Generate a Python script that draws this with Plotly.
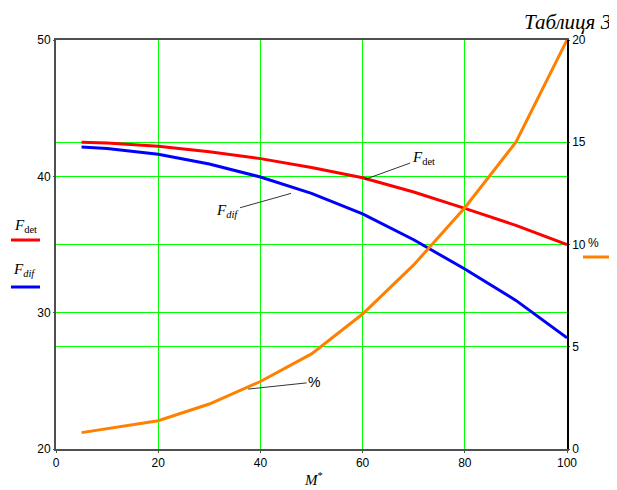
import plotly.graph_objects as go

# Data
m_star = [5, 10, 20, 30, 40, 50, 60, 70, 80, 90, 100]
f_det = [42.5, 42.45, 42.2, 41.8, 41.3, 40.65, 39.9, 38.85, 37.65, 36.4, 35.0]
f_dif = [42.15, 42.05, 41.62, 40.9, 39.95, 38.75, 37.25, 35.35, 33.2, 30.9, 28.15]
percent = [0.8, 1.0, 1.38, 2.2, 3.3, 4.65, 6.6, 9.0, 11.8, 15.0, 20.0]

x_ticks = [0, 20, 40, 60, 80, 100]
y_left_ticks = [20, 30, 40, 50]
y_right_ticks = [0, 5, 10, 15, 20]

GRID = "#00ff00"
AXIS = "#505050"
TICKFONT = dict(family="Liberation Sans, Arial", size=12, color="black")
SERIF = "Liberation Serif, Times New Roman"

# page offset (body margin) compensation
OX, OY = 8, 8
L, T, PW, PH = 56 - OX, 40 - OY, 511, 409


def px(xp):
    return (xp - OX - L) / PW


def py(yp):
    return (T + PH - (yp - OY)) / PH


fig = go.Figure()
fig.add_trace(go.Scatter(x=m_star, y=f_det, mode="lines", line=dict(color="#ff0000", width=3),
                         showlegend=False, yaxis="y"))
fig.add_trace(go.Scatter(x=m_star, y=f_dif, mode="lines", line=dict(color="#0000ff", width=3),
                         showlegend=False, yaxis="y"))
fig.add_trace(go.Scatter(x=m_star, y=percent, mode="lines", line=dict(color="#ff8000", width=3),
                         showlegend=False, yaxis="y2"))

W, H = 617 - OX, 490 - OY
fig.update_layout(
    width=W, height=H,
    margin=dict(l=L, r=W - L - PW, t=T, b=H - T - PH),
    paper_bgcolor="white", plot_bgcolor="white",
    xaxis=dict(range=[0, 100], tickvals=x_ticks, showgrid=True, gridcolor=GRID, gridwidth=1,
               showline=True, linecolor=AXIS, linewidth=1.5, mirror=True,
               ticks="outside", ticklen=2, tickcolor=AXIS, tickfont=TICKFONT, zeroline=False),
    yaxis=dict(range=[20, 50], tickvals=y_left_ticks, showgrid=True, gridcolor=GRID, gridwidth=1,
               showline=True, linecolor=AXIS, linewidth=2, ticks="outside", ticklen=1,
               tickcolor=AXIS, tickfont=TICKFONT, zeroline=False),
    yaxis2=dict(range=[0, 20], tickvals=y_right_ticks, overlaying="y", side="right",
                showgrid=True, gridcolor=GRID, gridwidth=1, showline=True, linecolor="black",
                linewidth=1.5, ticks="outside", ticklen=1, tickcolor=AXIS, tickfont=TICKFONT,
                zeroline=False),
)

annotations = [
    dict(text="<i>Таблиця 3</i>", xref="paper", yref="paper", x=px(613), y=py(22),
         xanchor="right", yanchor="middle", showarrow=False,
         font=dict(family=SERIF, size=21, color="black")),
    dict(text="<i>M</i><sup>*</sup>", xref="paper", yref="paper", x=px(313), y=py(479),
         xanchor="center", yanchor="middle", showarrow=False,
         font=dict(family=SERIF, size=15, color="black")),
    dict(text="<i>F</i><sub>det</sub>", x=60.5, y=39.78, xref="x", yref="y",
         ax=58, ay=-21, showarrow=True, arrowhead=0, arrowwidth=0.8, arrowcolor="black",
         font=dict(family=SERIF, size=15, color="black")),
    dict(text="<i>F</i><sub><i>dif</i></sub>", x=46, y=38.75, xref="x", yref="y",
         ax=-64, ay=18, showarrow=True, arrowhead=0, arrowwidth=0.8, arrowcolor="black",
         font=dict(family=SERIF, size=15, color="black")),
    dict(text="%", x=37.6, y=2.93, xref="x", yref="y2",
         ax=66, ay=-7, showarrow=True, arrowhead=0, arrowwidth=0.8, arrowcolor="black",
         font=dict(family="Liberation Sans, Arial", size=14, color="black")),
    # left legend labels
    dict(text="<i>F</i><sub>det</sub>", xref="paper", yref="paper", x=px(25),
         y=py(226), xanchor="center", yanchor="middle", showarrow=False,
         font=dict(family=SERIF, size=15, color="black")),
    dict(text="<i>F</i><sub><i>dif</i></sub>", xref="paper", yref="paper", x=px(24),
         y=py(270), xanchor="center", yanchor="middle", showarrow=False,
         font=dict(family=SERIF, size=15, color="black")),
    # right axis unit label
    dict(text="%", xref="paper", yref="paper", x=px(586), y=py(243),
         xanchor="left", yanchor="middle", showarrow=False,
         font=dict(family="Liberation Sans, Arial", size=12, color="black")),
]
fig.update_layout(annotations=annotations)

shapes = [
    dict(type="line", xref="paper", yref="paper", x0=px(11), x1=px(40),
         y0=py(240), y1=py(240), line=dict(color="#ff0000", width=3)),
    dict(type="line", xref="paper", yref="paper", x0=px(11), x1=px(40),
         y0=py(287), y1=py(287), line=dict(color="#0000ff", width=3)),
    dict(type="line", xref="paper", yref="paper", x0=px(583), x1=px(610),
         y0=py(257), y1=py(257), line=dict(color="#ff8000", width=3)),
]
fig.update_layout(shapes=shapes)

fig.write_html("out.html")
